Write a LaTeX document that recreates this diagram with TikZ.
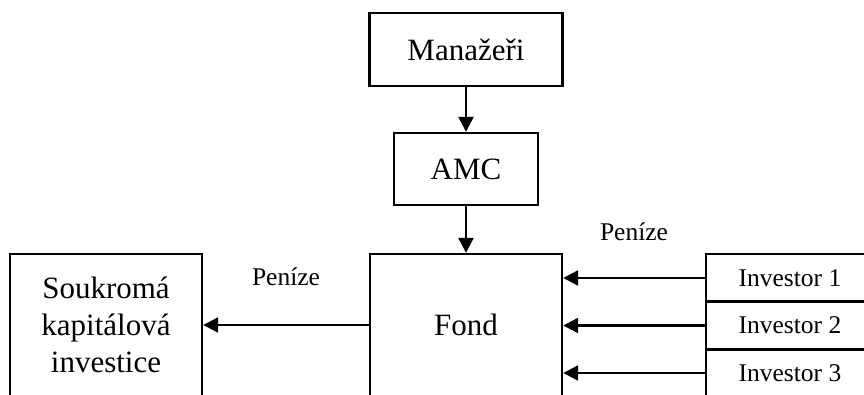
\documentclass[tikz,border=0pt]{standalone}
\usepackage{fontspec}
\setmainfont{Liberation Serif}
\usetikzlibrary{arrows.meta}

\begin{document}
\begin{tikzpicture}[x=1pt, y=-1pt,
    box/.style={draw=black, line width=2.4pt, align=center, inner sep=0pt,
        font=\fontsize{31}{37}\selectfont},
    invbox/.style={draw=black, line width=2.4pt, inner sep=0pt,
        minimum width=168pt, minimum height=48pt,
        font=\fontsize{25.5}{30}\selectfont},
    flow/.style={line width=2.4pt, -{Triangle[length=15pt, width=15pt]}},
    lbl/.style={font=\fontsize{25.5}{30}\selectfont}]

    \useasboundingbox (0,0) rectangle (864,394);
    \clip (0,0) rectangle (864,394);

                \node[box, minimum width=193pt, minimum height=73pt] (M) at (466,49.5) {Manažeři};
                \node[box, minimum width=144pt, minimum height=72pt] (A) at (466,169) {AMC};
                \node[box, minimum width=192pt, minimum height=142pt] (F) at (466,325) {Fond};
                \node[box, minimum width=192pt, minimum height=142pt] (S) at (106,325) {Soukromá\\kapitálová\\investice};

                \node[invbox] (I1) at (790,278) {Investor 1};
                \node[invbox] (I2) at (790,325.5) {Investor 2};
                \node[invbox] (I3) at (790,373) {Investor 3};

                \draw[flow] (M) -- (A);
                \draw[flow] (A) -- (F);
                \draw[flow] (F.west |- S.east) -- (S.east) node[midway, lbl, yshift=48pt] {Peníze};
                \draw[flow] (I1.west) -- (I1.west -| F.east) node[midway, lbl, yshift=46pt] {Peníze};
                \draw[flow] (I2.west) -- (I2.west -| F.east);
                \draw[flow] (I3.west) -- (I3.west -| F.east);

            \end{tikzpicture}
\end{document}
